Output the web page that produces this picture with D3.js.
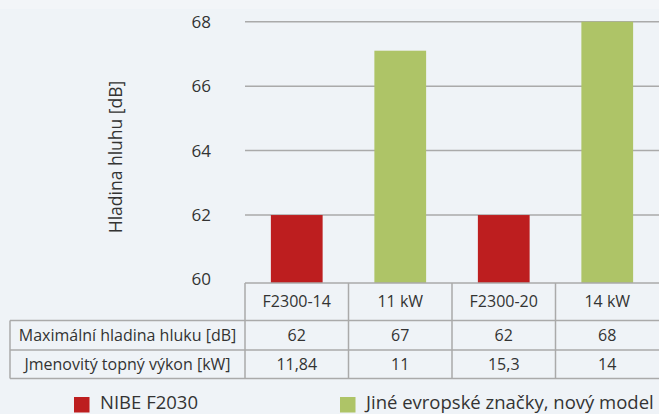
<!DOCTYPE html>
<html>
<head>
<meta charset="utf-8">
<script src="https://cdn.jsdelivr.net/npm/d3@7"></script>
<style>
  body { margin: 0; background: #eff3f7; }
  svg { display: block; font-family: "Open Sans", sans-serif; }
</style>
</head>
<body>
<div id="chart-area"></div>
<script>
// data
const categories = ['F2300-14', '11 kW', 'F2300-20', '14 kW'];
const brands = ['nibe', 'other', 'nibe', 'other'];
const noiseValues = [62, 67.1, 62, 68];
const yTicks = [60, 62, 64, 66, 68];
const rowLabels = ['Maximální hladina hluku [dB]', 'Jmenovitý topný výkon [kW]'];
const noiseRow = ['62', '67', '62', '68'];
const powerRow = ['11,84', '11', '15,3', '14'];
const legendLabels = ['NIBE F2030', 'Jiné evropské značky, nový model'];

const W = 659, H = 414;
const plotLeft = 245, plotRight = 659;
const tableTop = 283;
const rowEdges = [283, 320.5, 350, 378.5];
const lineColor = '#aaaaaa';
const textColor = '#333333';

const color = d3.scaleOrdinal()
  .domain(['nibe', 'other'])
  .range(['#bd1e1f', '#aec467']);

const svg = d3.select('#chart-area').append('svg')
  .attr('width', W)
  .attr('height', H);

svg.append('rect')
  .attr('width', W).attr('height', 9)
  .attr('fill', '#f3f5f8');

const x = d3.scaleBand()
  .domain(categories)
  .range([plotLeft, plotRight])
  .paddingInner(0.5)
  .paddingOuter(0.25);

const xCol = d3.scaleBand()
  .domain(categories)
  .range([plotLeft, plotRight]);

const y = d3.scaleLinear()
  .domain([60, 68])
  .range([279.5, 21.7]);

// gridlines
svg.append('g')
  .selectAll('line')
  .data(yTicks.filter(d => d > 60))
  .join('line')
  .attr('x1', plotLeft)
  .attr('x2', plotRight)
  .attr('y1', d => y(d))
  .attr('y2', d => y(d))
  .attr('stroke', lineColor)
  .attr('stroke-width', 1.5);

// y axis labels
const yAxis = svg.append('g')
  .attr('transform', `translate(211, 0)`)
  .call(d3.axisLeft(y).tickValues(yTicks).tickSize(0).tickPadding(0).tickFormat(d3.format('d')));
yAxis.select('.domain').remove();
yAxis.selectAll('text')
  .attr('font-family', '"Open Sans", sans-serif')
  .attr('font-size', '17px')
  .attr('fill', textColor);

svg.append('text')
  .attr('transform', `translate(122, 157) rotate(-90)`)
  .attr('text-anchor', 'middle')
  .attr('font-size', '17.5px')
  .attr('fill', textColor)
  .text('Hladina hluhu [dB]');

// bars
svg.append('g')
  .selectAll('rect')
  .data(noiseValues)
  .join('rect')
  .attr('x', (d, i) => x(categories[i]))
  .attr('width', x.bandwidth())
  .attr('y', d => y(d))
  .attr('height', d => tableTop - y(d))
  .attr('fill', (d, i) => color(brands[i]));

// table
const table = svg.append('g');

table.append('line')
  .attr('x1', plotLeft).attr('x2', plotRight + 1)
  .attr('y1', rowEdges[0]).attr('y2', rowEdges[0]);
[1, 2, 3].forEach(i => {
  table.append('line')
    .attr('x1', 10).attr('x2', plotRight + 1)
    .attr('y1', rowEdges[i]).attr('y2', rowEdges[i]);
});
table.append('line')
  .attr('x1', 10).attr('x2', 10)
  .attr('y1', rowEdges[1]).attr('y2', rowEdges[3]);
categories.forEach(c => {
  table.append('line')
    .attr('x1', xCol(c)).attr('x2', xCol(c))
    .attr('y1', rowEdges[0]).attr('y2', rowEdges[3]);
});
table.selectAll('line')
  .attr('stroke', lineColor)
  .attr('stroke-width', 1.5);

const rowMid = i => (rowEdges[i] + rowEdges[i + 1]) / 2;

[categories, noiseRow, powerRow].forEach((row, r) => {
  table.append('g')
    .selectAll('text')
    .data(row)
    .join('text')
    .attr('x', (d, i) => xCol(categories[i]) + xCol.bandwidth() / 2)
    .attr('y', rowMid(r))
    .attr('dy', '0.35em')
    .attr('text-anchor', 'middle')
    .attr('font-size', '16px')
    .attr('fill', textColor)
    .text(d => d);
});

rowLabels.forEach((label, r) => {
  table.append('text')
    .attr('x', (10 + plotLeft) / 2)
    .attr('y', rowMid(r + 1))
    .attr('dy', '0.35em')
    .attr('text-anchor', 'middle')
    .attr('font-size', '16px')
    .attr('fill', textColor)
    .text(label);
});

// legend
const legendX = [74, 340];
legendLabels.forEach((label, i) => {
  const row = svg.append('g')
    .attr('transform', `translate(${legendX[i]}, 397)`);
  row.append('rect')
    .attr('width', 15.5)
    .attr('height', 15.5)
    .attr('fill', color(['nibe', 'other'][i]));
  row.append('text')
    .attr('x', 26)
    .attr('y', 12)
    .attr('font-size', '18.5px')
    .attr('fill', textColor)
    .text(label);
});
</script>
</body>
</html>
